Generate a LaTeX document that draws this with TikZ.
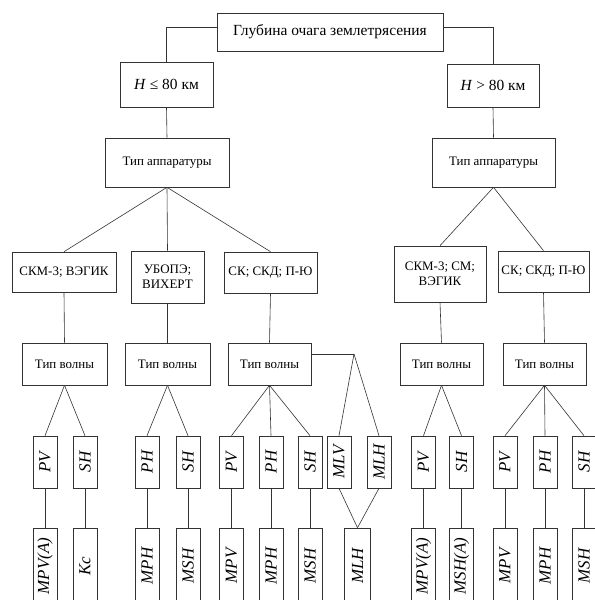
\documentclass[tikz,border=0pt]{standalone}
\usepackage{fontspec}
\setmainfont{Liberation Serif}
\usepackage{tikz}

\tikzset{
	box/.style={draw=black!80, line width=0.6bp, inner sep=1bp, align=center, font=\fontsize{13}{15.5}\selectfont},
	wbox/.style={draw=black!80, line width=0.6bp, inner sep=0pt, rotate=90, minimum width=52bp, minimum height=24bp, font=\fontsize{17}{19}\selectfont\itshape},
	mbox/.style={wbox, minimum width=76bp},
	conn/.style={draw=black!80, line width=0.6bp}
}

\begin{document}
\begin{tikzpicture}[x=1bp, y=-1bp]
	\useasboundingbox (0,0) rectangle (595,600);
	\node (top) at (330, 32) [box, minimum width=226bp, minimum height=38bp, font=\fontsize{15.5}{18}\selectfont] {Глубина очага землетрясения};
	\node (hle) at (166.5, 84.5) [box, minimum width=93bp, minimum height=45bp, font=\fontsize{15.5}{18}\selectfont] {\textit{H} ≤ 80 км};
	\node (hgt) at (493, 85.5) [box, minimum width=92bp, minimum height=43bp, font=\fontsize{15.5}{18}\selectfont] {\textit{H} > 80 км};
		\node (app1) at (167, 162.5) [box, minimum width=124bp, minimum height=49bp] {Тип аппаратуры};
		\node (app2) at (493.5, 162.5) [box, minimum width=123bp, minimum height=49bp] {Тип аппаратуры};
			\node (dev1) at (64, 272) [box, minimum width=104bp, minimum height=40bp] {СКМ-3; ВЭГИК};
			\node (dev2) at (167.5, 277) [box, minimum width=73bp, minimum height=52bp] {УБОПЭ;\\ВИХЕРТ};
			\node (dev3) at (270.5, 272.5) [box, minimum width=93bp, minimum height=41bp] {СК; СКД; П-Ю};
			\node (dev4) at (440, 274) [box, minimum width=92bp, minimum height=56bp] {СКМ-3; СМ;\\ВЭГИК};
			\node (dev5) at (543.5, 271.5) [box, minimum width=91bp, minimum height=41bp] {СК; СКД; П-Ю};
				\node (wave1) at (64.5, 364) [box, minimum width=85bp, minimum height=42bp] {Тип волны};
				\node (wave2) at (167.5, 364) [box, minimum width=85bp, minimum height=42bp] {Тип волны};
				\node (wave3) at (269.5, 364) [box, minimum width=83bp, minimum height=42bp] {Тип волны};
				\node (wave4) at (441.5, 364) [box, minimum width=83bp, minimum height=42bp] {Тип волны};
				\node (wave5) at (544.5, 364) [box, minimum width=83bp, minimum height=42bp] {Тип волны};
	\coordinate (mlfork) at (354, 354);
	% wave types
	\node (pv1) at (45, 462) [wbox] {PV};
	\node (sh1) at (85, 462) [wbox] {SH};
	\node (ph2) at (147, 462) [wbox] {PH};
	\node (sh2) at (188, 462) [wbox] {SH};
	\node (pv3) at (231.5, 462) [wbox] {PV};
	\node (ph3) at (271, 462) [wbox] {PH};
	\node (sh3) at (310, 462) [wbox] {SH};
	\node (mlv) at (339, 462) [wbox] {MLV};
	\node (mlh) at (379, 462) [wbox] {MLH};
	\node (pv4) at (423.5, 462) [wbox] {PV};
	\node (sh4) at (461.5, 462) [wbox] {SH};
	\node (pv5) at (505, 462) [wbox] {PV};
	\node (ph5) at (545, 462) [wbox] {PH};
	\node (sh5) at (584, 462) [wbox] {SH};
	% magnitudes
	\node (mpva1) at (45, 566) [mbox] {MPV(A)};
	\node (kc1) at (85, 566) [mbox] {Kc};
	\node (mph2) at (147, 566) [mbox] {MPH};
	\node (msh2) at (188, 566) [mbox] {MSH};
	\node (mpv3) at (231.5, 566) [mbox] {MPV};
	\node (mph3) at (271, 566) [mbox] {MPH};
	\node (msh3) at (310, 566) [mbox] {MSH};
	\node (mlh3) at (357.5, 566) [mbox, minimum height=26bp] {MLH};
	\node (mpva4) at (423.5, 566) [mbox] {MPV(A)};
	\node (msha4) at (461.5, 566) [mbox] {MSH(A)};
	\node (mpv5) at (505, 566) [mbox] {MPV};
	\node (mph5) at (545, 566) [mbox] {MPH};
	\node (msh5) at (584, 566) [mbox] {MSH};
	\draw[conn] ([yshift=5bp]top.west) -| (hle.north);
	\draw[conn] ([yshift=5bp]top.east) -| (hgt.north);
	\draw[conn] (hle.south) to (app1.north);
	\draw[conn] (hgt.south) to (app2.north);
	\draw[conn] (app1.south) to (dev1.north);
	\draw[conn] (app1.south) to (dev2.north);
	\draw[conn] (app1.south) to (dev3.north);
	\draw[conn] (app2.south) to (dev4.north);
	\draw[conn] (app2.south) to (dev5.north);
	\draw[conn] (dev1.south) to (wave1.north);
	\draw[conn] (dev2.south) to (wave2.north);
	\draw[conn] (dev3.south) to (wave3.north);
	\draw[conn] (dev4.south) to (wave4.north);
	\draw[conn] (dev5.south) to (wave5.north);
	\draw[conn] (wave1.south) to (pv1.east);
	\draw[conn] (wave1.south) to (sh1.east);
	\draw[conn] (wave2.south) to (ph2.east);
	\draw[conn] (wave2.south) to (sh2.east);
	\draw[conn] (wave3.south) to (pv3.east);
	\draw[conn] (wave3.south) to (ph3.east);
	\draw[conn] (wave3.south) to (sh3.east);
	\draw[conn] (wave3.east |- mlfork) to (mlfork);
	\draw[conn] (mlfork) to (mlv.east);
	\draw[conn] (mlfork) to (mlh.east);
	\draw[conn] (wave4.south) to (pv4.east);
	\draw[conn] (wave4.south) to (sh4.east);
	\draw[conn] (wave5.south) to (pv5.east);
	\draw[conn] (wave5.south) to (ph5.east);
	\draw[conn] (wave5.south) to (sh5.east);
	\draw[conn] (pv1.west) to (mpva1.east);
	\draw[conn] (sh1.west) to (kc1.east);
	\draw[conn] (ph2.west) to (mph2.east);
	\draw[conn] (sh2.west) to (msh2.east);
	\draw[conn] (pv3.west) to (mpv3.east);
	\draw[conn] (ph3.west) to (mph3.east);
	\draw[conn] (sh3.west) to (msh3.east);
	\draw[conn] (mlv.west) to (mlh3.east);
	\draw[conn] (mlh.west) to (mlh3.east);
	\draw[conn] (pv4.west) to (mpva4.east);
	\draw[conn] (sh4.west) to (msha4.east);
	\draw[conn] (pv5.west) to (mpv5.east);
	\draw[conn] (ph5.west) to (mph5.east);
	\draw[conn] (sh5.west) to (msh5.east);
\end{tikzpicture}
\end{document}
